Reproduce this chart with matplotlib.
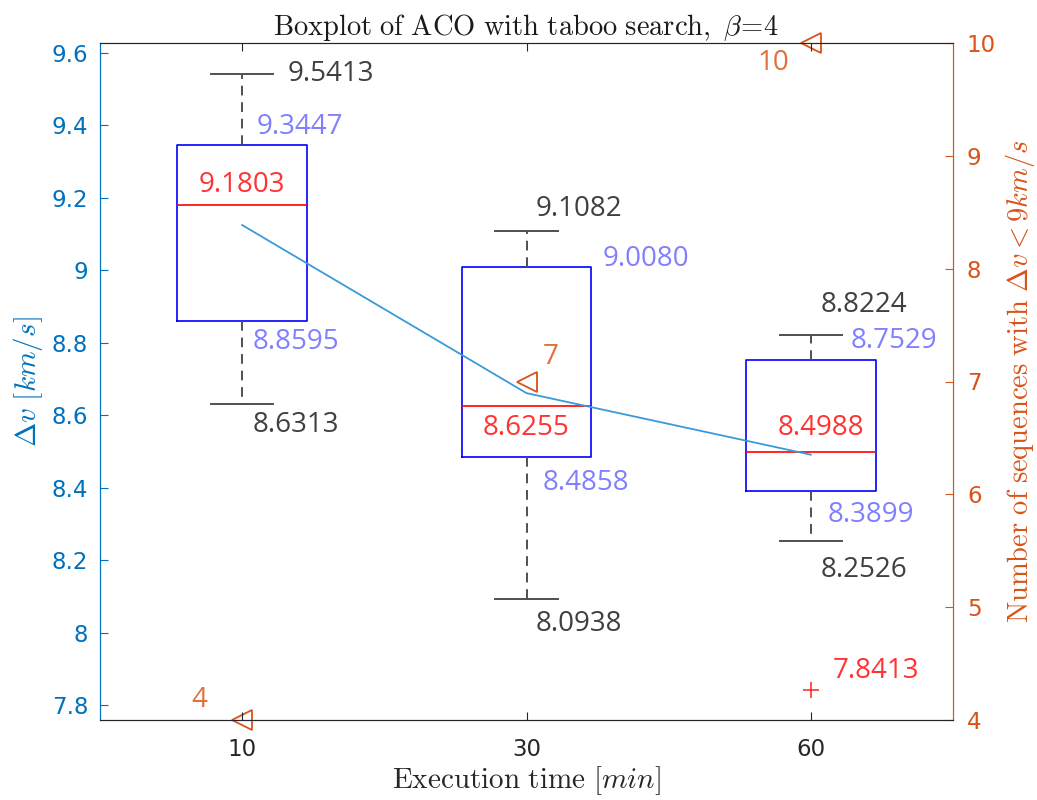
import matplotlib
matplotlib.use("Agg")
import matplotlib.pyplot as plt

plt.rcParams['mathtext.fontset'] = 'cm'
plt.rcParams['font.family'] = ['DejaVu Sans']

# execution time categories
times = ['10', '30', '60']

# box statistics of delta-v [km/s]
whis_hi = [9.5413, 9.1082, 8.8224]
q3 = [9.3447, 9.0080, 8.7529]
medians = [9.1803, 8.6255, 8.4988]
q1 = [8.8595, 8.4858, 8.3899]
whis_lo = [8.6313, 8.0938, 8.2526]
outliers = [[], [], [7.8413]]

# mean delta-v per execution time
means = [9.125, 8.661, 8.491]

# number of sequences with dv < 9 km/s
n_good = [4, 7, 10]

BLUE_AX = '#0072BD'
ORANGE = '#D95319'
GRAY = '#404040'
Q_COL = '#8080FF'
MED_COL = '#FF3333'
VAL_FONT = 'Open Sans'
VAL_SIZE = 20

fig = plt.figure(figsize=(10.37, 8), dpi=100)
ax = fig.add_axes([100 / 1037, 80 / 800, 853 / 1037, 677 / 800])
ax2 = ax.twinx()
ax.set_zorder(ax2.get_zorder() + 1)
ax.patch.set_visible(False)

pos = [1, 2, 3]
stats = []
for i in range(3):
    stats.append(dict(med=medians[i], q1=q1[i], q3=q3[i],
                      whislo=whis_lo[i], whishi=whis_hi[i],
                      fliers=outliers[i]))

ax.bxp(stats, positions=pos, widths=0.455, capwidths=0.22,
       boxprops=dict(color='#0000FF', lw=1.2),
       medianprops=dict(color='#FF0000', lw=1.2),
       whiskerprops=dict(color='#505050', lw=1.4, dashes=(5, 3.5)),
       capprops=dict(color='#505050', lw=1.4),
       flierprops=dict(marker='+', markeredgecolor='#FF2020', markersize=11,
                       markeredgewidth=1.1))

ax.plot(pos, means, color='#3A9AD9', lw=1.3, zorder=5)


def label(x, y, val, col, dx, dy, ha='left'):
    ax.annotate(f'{val:.4f}', (x, y), xytext=(dx, dy), textcoords='offset pixels',
                ha=ha, va='center', color=col, fontsize=VAL_SIZE, family=VAL_FONT)


# value labels: (offsets in pixels)
hi_off = [(45, 0), (9, 22), (10, 30)]
q3_off = [(14, 18), (76, 8), (40, 19)]
med_off = [(0, 20), (0, -22), (10, 24)]
q1_off = [(10, -21), (16, -26), (17, -24)]
lo_off = [(10, -21), (9, -25), (10, -29)]

for i, p in enumerate(pos):
    label(p, whis_hi[i], whis_hi[i], GRAY, *hi_off[i])
    label(p, q3[i], q3[i], Q_COL, *q3_off[i])
    label(p, medians[i], medians[i], MED_COL, *med_off[i], ha='center')
    label(p, q1[i], q1[i], Q_COL, *q1_off[i])
    label(p, whis_lo[i], whis_lo[i], GRAY, *lo_off[i])
    for o in outliers[i]:
        label(p, o, o, MED_COL, 22, 19)

ax.set_xlim(0.5, 3.5)
ax.set_ylim(7.7586, 9.6276)
ax.set_xticks(pos)
ax.set_xticklabels(times)
yt = [7.8, 8.0, 8.2, 8.4, 8.6, 8.8, 9.0, 9.2, 9.4, 9.6]
ax.set_yticks(yt)
ax.set_yticklabels([f'{v:g}' for v in yt])

# sequence counts on the right axis
ax2.plot(pos, n_good, linestyle='none', marker='<', markersize=14,
         markerfacecolor='none', markeredgecolor=ORANGE, markeredgewidth=1.3,
         clip_on=False, zorder=6)
n_off = [(-43, 20), (24, 25), (-38, -20)]
for p, n, off in zip(pos, n_good, n_off):
    ax2.annotate(str(n), (p, n), xytext=off, textcoords='offset pixels',
                 ha='center', va='center', color='#E0703C', fontsize=VAL_SIZE,
                 family=VAL_FONT)
ax2.set_ylim(4, 10)
ax2.set_yticks(range(4, 11))

# axes styling
for s in ['top', 'bottom']:
    ax.spines[s].set_color('#262626')
    ax2.spines[s].set_color('#262626')
ax.spines['left'].set_color(BLUE_AX)
ax2.spines['left'].set_color(BLUE_AX)
ax.spines['right'].set_color(ORANGE)
ax2.spines['right'].set_color(ORANGE)

ax.tick_params(axis='x', direction='in', length=6, top=True, bottom=True,
               labelsize=16.5, colors='#262626', pad=13)
ax.tick_params(axis='y', direction='in', length=6, left=True, right=False,
               labelsize=16.5, colors=BLUE_AX, pad=8.5)
ax2.tick_params(axis='y', direction='in', length=6, right=True, left=False,
                labelsize=16.5, colors=ORANGE, pad=10)
ax2.tick_params(axis='x', top=False, bottom=False)

ax.set_title(r'$\mathrm{Boxplot\ of\ ACO\ with\ taboo\ search,\ }\beta\!=\!4$',
             fontsize=20.5, color='#1a1a1a', pad=3)
ax.set_xlabel(r'$\mathrm{Execution\ time\ }[min]$', fontsize=21, color='#262626',
              labelpad=2)
ax.set_ylabel(r'$\Delta v\ [km/s]$', fontsize=21, color=BLUE_AX, labelpad=5)
ax2.set_ylabel(r'$\mathrm{Number\ of\ sequences\ with\ }\Delta v < 9km/s$',
               fontsize=20.5, color=ORANGE, labelpad=5)

fig.savefig('out.png', dpi=100)
